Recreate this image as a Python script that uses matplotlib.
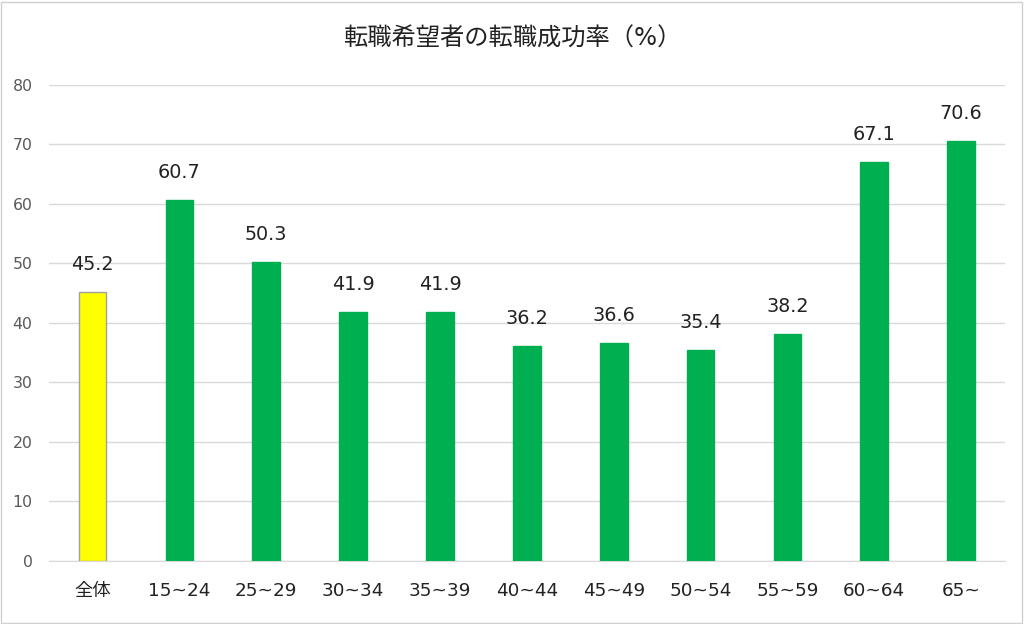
import numpy as np
import matplotlib
matplotlib.use("Agg")
import matplotlib.pyplot as plt
from matplotlib.patches import Rectangle

plt.rcParams['font.family'] = ['DejaVu Sans', 'Noto Sans CJK JP']

categories = ['全体', '15~24', '25~29', '30~34', '35~39', '40~44',
              '45~49', '50~54', '55~59', '60~64', '65~']
values = [45.2, 60.7, 50.3, 41.9, 41.9, 36.2, 36.6, 35.4, 38.2, 67.1, 70.6]
title = '転職希望者の転職成功率（%）'

fig = plt.figure(figsize=(10.24, 6.24), dpi=100)
ax = fig.add_axes([0.048, 0.101, 0.933, 0.763])

x = np.arange(len(categories))
colors = ['#FFFF00'] + ['#00B050'] * (len(categories) - 1)
edges = ['#A0A0A0'] + ['#00B050'] * (len(categories) - 1)
bars = ax.bar(x, values, width=0.32, color=colors, edgecolor=edges,
              linewidth=1.0, zorder=3)

for xi, v in zip(x, values):
    ax.text(xi, v + 3.0, f'{v:.1f}', ha='center', va='bottom',
            fontsize=13.8, color='#222222')

ax.set_xlim(-0.5, len(categories) - 0.5)
ax.set_ylim(0, 80)
ax.set_yticks(range(0, 81, 10))
ax.yaxis.grid(True, color='#D9D9D9', linewidth=1.0, zorder=0)
ax.set_xticks(x)
ax.set_xticklabels(categories, fontsize=13.2, color='#222222')
ax.tick_params(axis='y', labelsize=11.3, labelcolor='#595959', length=0, pad=12)
ax.tick_params(axis='x', length=0, pad=15)
for s in ['top', 'right', 'left']:
    ax.spines[s].set_visible(False)
ax.spines['bottom'].set_color('#D9D9D9')

fig.text(0.5, 0.938, title, ha='center', va='center', fontsize=17.5,
         color='#222222')

fig.patches.append(Rectangle((0.001, 0.002), 0.997, 0.995, transform=fig.transFigure,
                             fill=False, edgecolor='#D0D0D0', linewidth=1.0))

fig.savefig('out.png', dpi=100)
